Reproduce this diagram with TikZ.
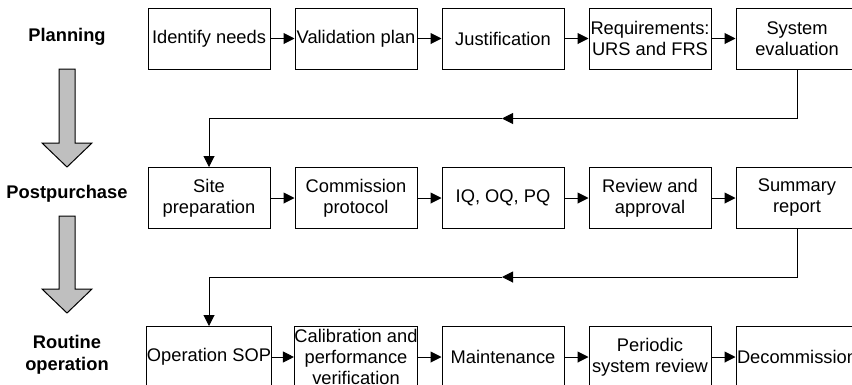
\documentclass[tikz,border=0pt]{standalone}
\usepackage{fontspec}
\setmainfont{Liberation Sans}
\usetikzlibrary{arrows.meta}
\begin{document}
\begin{tikzpicture}[x=1pt,y=-1pt,
  box/.style={draw,line width=1pt,minimum width=122pt,minimum height=61pt,inner sep=0pt,align=center,font=\fontsize{18.3}{21}\selectfont},
  phase/.style={align=center,font=\fontsize{18.3}{22}\selectfont\bfseries},
  flow/.style={line width=1pt,-{Triangle[length=11pt,width=11pt]}},
  bigarrow/.style={draw=black,line width=1pt,fill=black!25}]
\useasboundingbox (0,0) rectangle (852,384);
% phase labels
\node[phase] (p1) at (67,37) {Planning};
\node[phase] (p2) at (67,194) {Postpurchase};
\node[phase] (p3) at (67,355) {Routine\\operation};
% big gray arrows
\draw[bigarrow] (59,69) -- (75,69) -- (75,143) -- (92,143) -- (67,167) -- (42,143) -- (59,143) -- cycle;
\draw[bigarrow] (59,216) -- (75,216) -- (75,289) -- (92,289) -- (67,313) -- (42,289) -- (59,289) -- cycle;
% row 1
\node[box] (a1) at (209,38.5) {Identify needs};
\node[box] (a2) at (356,38.5) {Validation plan};
\node[box] (a3) at (503,38.5) {Justification};
\node[box] (a4) at (650,38.5) {Requirements:\\URS and FRS};
\node[box] (a5) at (797,38.5) {System\\evaluation};
% row 2
\node[box] (b1) at (209,198) {Site\\preparation};
\node[box] (b2) at (356,198) {Commission\\protocol};
\node[box] (b3) at (503,198) {IQ, OQ, PQ};
\node[box] (b4) at (650,198) {Review and\\approval};
\node[box] (b5) at (797,198) {Summary\\report};
% row 3
\node[box] (c1) at (209,357) {Operation SOP};
\node[box] (c2) at (356,357) {Calibration and\\performance\\verification};
\node[box] (c3) at (503,357) {Maintenance};
\node[box] (c4) at (650,357) {Periodic\\system review};
\node[box] (c5) at (797,357) {Decommission};
% horizontal flows
\foreach \r in {a,b,c}{
  \draw[flow] (\r1) -- (\r2);
  \draw[flow] (\r2) -- (\r3);
  \draw[flow] (\r3) -- (\r4);
  \draw[flow] (\r4) -- (\r5);
}
% return lines
\coordinate (m1) at (502,118.5);
\coordinate (m2) at (502,277);
\draw[flow] (a5.south) |- (m1);
\draw[flow] (m1) -| (b1.north);
\draw[flow] (b5.south) |- (m2);
\draw[flow] (m2) -| (c1.north);
\end{tikzpicture}
\end{document}
